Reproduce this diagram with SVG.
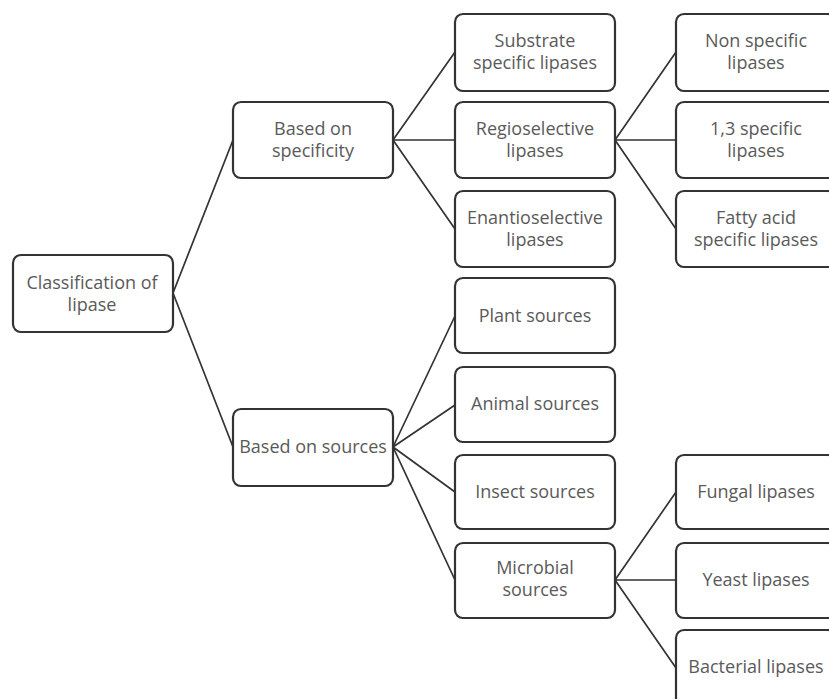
<svg xmlns="http://www.w3.org/2000/svg" width="829" height="699" viewBox="0 0 829 699">
<style>
.box{fill:#fff;stroke:#333;stroke-width:2.2}
.t{font-family:"Open Sans",sans-serif;font-size:18px;fill:#5a5a5a;text-anchor:middle}
.c{stroke:#333;stroke-width:1.7;fill:none}
</style>
<rect width="829" height="699" fill="#fff"/>
<g id="connectors">
<path class="c" d="M173,293 L233,140 M173,293 L233,447"/>
<path class="c" d="M393,140 L455,52 M393,140 L455,140 M393,140 L455,229"/>
<path class="c" d="M615,140 L676,52 M615,140 L676,140 M615,140 L676,229"/>
<path class="c" d="M393,447 L455,316 M393,447 L455,405 M393,447 L455,492 M393,447 L455,580"/>
<path class="c" d="M615,580 L676,492 M615,580 L676,580 M615,580 L676,668"/>
</g>
<g id="root"><rect class="box" x="13" y="255" width="160" height="77" rx="8"/><text class="t" x="92" y="289">Classification of</text><text class="t" x="92" y="311">lipase</text></g>
<g id="specificity"><rect class="box" x="233" y="102" width="160" height="76" rx="8"/><text class="t" x="313" y="135">Based on</text><text class="t" x="313" y="157">specificity</text></g>
<g id="sources"><rect class="box" x="233" y="409" width="160" height="77" rx="8"/><text class="t" x="313" y="453">Based on sources</text></g>
<g id="substrate"><rect class="box" x="455" y="14" width="160" height="77" rx="8"/><text class="t" x="535" y="47">Substrate</text><text class="t" x="535" y="69">specific lipases</text></g>
<g id="regio"><rect class="box" x="455" y="102" width="160" height="76" rx="8"/><text class="t" x="535" y="135">Regioselective</text><text class="t" x="535" y="157">lipases</text></g>
<g id="enantio"><rect class="box" x="455" y="191" width="160" height="76" rx="8"/><text class="t" x="535" y="224">Enantioselective</text><text class="t" x="535" y="246">lipases</text></g>
<g id="nonspecific"><rect class="box" x="676" y="14" width="160" height="77" rx="8"/><text class="t" x="756" y="47">Non specific</text><text class="t" x="756" y="69">lipases</text></g>
<g id="onethree"><rect class="box" x="676" y="102" width="160" height="76" rx="8"/><text class="t" x="756" y="135">1,3 specific</text><text class="t" x="756" y="157">lipases</text></g>
<g id="fattyacid"><rect class="box" x="676" y="191" width="160" height="76" rx="8"/><text class="t" x="756" y="224">Fatty acid</text><text class="t" x="756" y="246">specific lipases</text></g>
<g id="plant"><rect class="box" x="455" y="278" width="160" height="75" rx="8"/><text class="t" x="535" y="322">Plant sources</text></g>
<g id="animal"><rect class="box" x="455" y="367" width="160" height="75" rx="8"/><text class="t" x="535" y="410">Animal sources</text></g>
<g id="insect"><rect class="box" x="455" y="455" width="160" height="74" rx="8"/><text class="t" x="535" y="498">Insect sources</text></g>
<g id="microbial"><rect class="box" x="455" y="543" width="160" height="75" rx="8"/><text class="t" x="535" y="574">Microbial</text><text class="t" x="535" y="596">sources</text></g>
<g id="fungal"><rect class="box" x="676" y="455" width="160" height="74" rx="8"/><text class="t" x="756" y="498">Fungal lipases</text></g>
<g id="yeast"><rect class="box" x="676" y="543" width="160" height="75" rx="8"/><text class="t" x="756" y="586">Yeast lipases</text></g>
<g id="bacterial"><rect class="box" x="676" y="630" width="160" height="78" rx="8"/><text class="t" x="756" y="673">Bacterial  lipases</text></g>
</svg>
